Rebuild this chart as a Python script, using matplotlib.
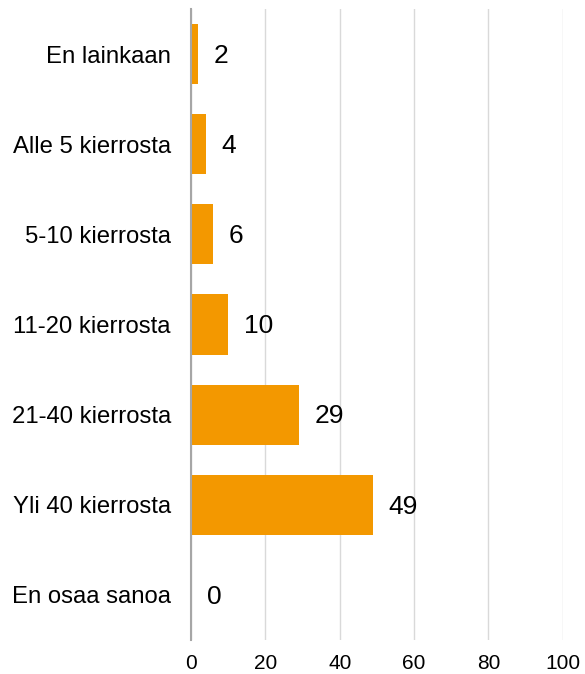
import numpy as np
import matplotlib.pyplot as plt

plt.rcParams['font.family'] = ['Liberation Sans', 'DejaVu Sans']

# Data
categories = ['En lainkaan', 'Alle 5 kierrosta', '5-10 kierrosta', '11-20 kierrosta',
              '21-40 kierrosta', 'Yli 40 kierrosta', 'En osaa sanoa']
values = [2, 4, 6, 10, 29, 49, 0]
xticks = [0, 20, 40, 60, 80, 100]

fig = plt.figure(figsize=(5.85, 6.74), dpi=100)
ax = fig.add_axes([0.3265, 0.0504, 0.6355, 0.9362])

y = np.arange(len(categories))
bars = ax.barh(y, values, height=0.667, color='#F39800', zorder=3)

for yi, v in zip(y, values):
    ax.text(v + 4.2, yi + 0.02, str(v), va='center', ha='left', fontsize=19, color='black')

ax.set_ylim(len(categories) - 0.5, -0.5)
ax.set_xlim(0, 100)
ax.set_yticks(y)
ax.set_yticklabels(categories, fontsize=17.2)
ax.set_xticks(xticks)
ax.set_xticklabels([str(t) for t in xticks], fontsize=15)
ax.tick_params(axis='both', length=0)
ax.tick_params(axis='y', pad=14.5)
ax.tick_params(axis='x', pad=10)

ax.grid(axis='x', color='#D9D9D9', linewidth=1, zorder=0)
for s in ['top', 'right', 'bottom']:
    ax.spines[s].set_visible(False)
ax.spines['left'].set_color('#A6A6A6')
ax.spines['left'].set_linewidth(1.5)
ax.spines['left'].set_zorder(4)

fig.savefig('out.png', dpi=100)
